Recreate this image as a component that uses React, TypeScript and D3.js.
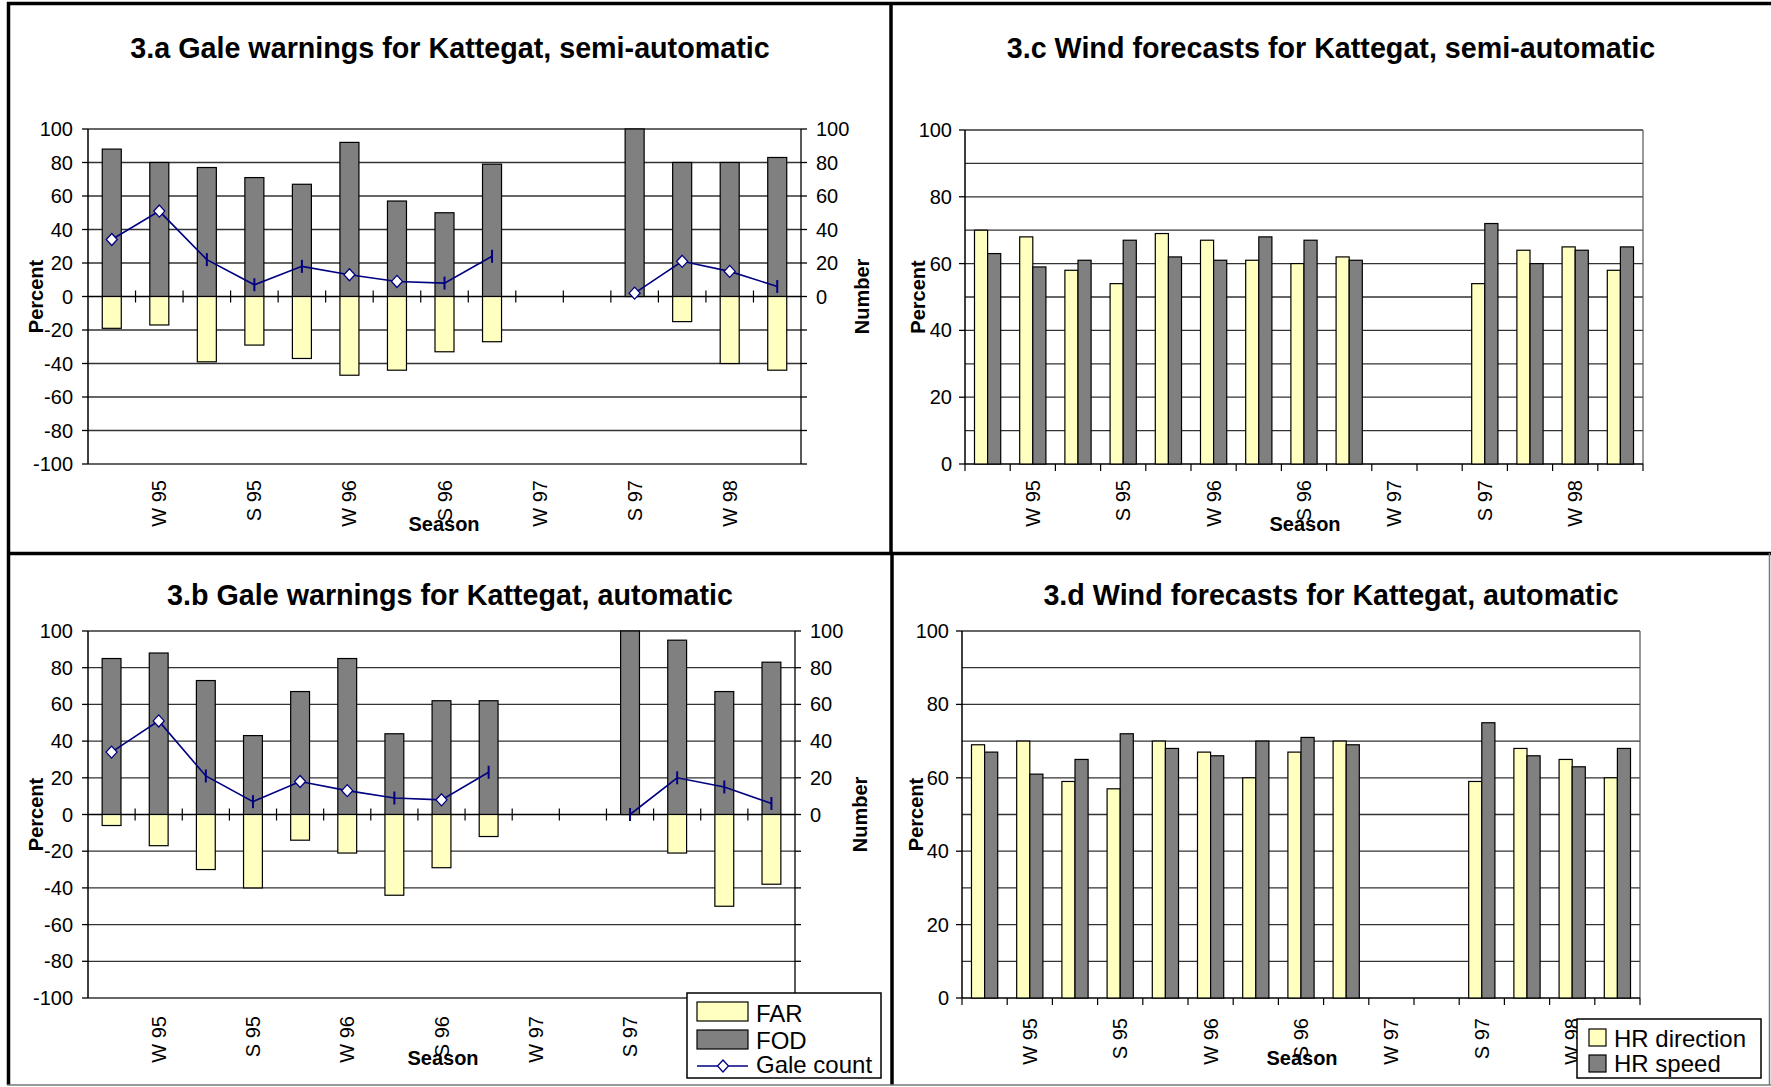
import React, { useEffect, useRef } from "react";
import * as d3 from "d3";

const W = 1771;
const H = 1087;
const FONT = "'Liberation Sans', Arial, sans-serif";

// categories (labels shown on every second season)
const seasons = ["", "W 95", "", "S 95", "", "W 96", "", "S 96", "", "W 97", "", "S 97", "", "W 98", ""];

// 3.a gale warnings, semi-automatic
const farSemi = [19, 17, 39, 29, 37, 47, 44, 33, 27, null, null, 0, 15, 40, 44];
const fodSemi = [88, 80, 77, 71, 67, 92, 57, 50, 79, null, null, 100, 80, 80, 83];
const galeSemi = [34, 51, 22, 7, 18, 13, 9, 8, 24, null, null, 2, 21, 15, 6];
const galeSemiMarks = ["d", "d", "|", "|", "|", "d", "d", "|", "|", "", "", "d", "d", "d", "|"];

// 3.b gale warnings, automatic
const farAuto = [6, 17, 30, 40, 14, 21, 44, 29, 12, null, null, 0, 21, 50, 38];
const fodAuto = [85, 88, 73, 43, 67, 85, 44, 62, 62, null, null, 100, 95, 67, 83];
const galeAuto = [34, 51, 21, 7, 18, 13, 9, 8, 23, null, null, 0, 20, 15, 6];
const galeAutoMarks = ["d", "d", "|", "|", "d", "d", "|", "d", "|", "", "", "|", "|", "|", "|"];

// 3.c wind forecasts, semi-automatic
const dirSemi = [70, 68, 58, 54, 69, 67, 61, 60, 62, null, null, 54, 64, 65, 58];
const speedSemi = [63, 59, 61, 67, 62, 61, 68, 67, 61, null, null, 72, 60, 64, 65];

// 3.d wind forecasts, automatic
const dirAuto = [69, 70, 59, 57, 70, 67, 60, 67, 70, null, null, 59, 68, 65, 60];
const speedAuto = [67, 61, 65, 72, 68, 66, 70, 71, 69, null, null, 75, 66, 63, 68];

const galeTicks = [-100, -80, -60, -40, -20, 0, 20, 40, 60, 80, 100];
const windTicks = [0, 20, 40, 60, 80, 100];

const colors = { far: "#FFFFC0", fod: "#808080", line: "#000080", grid: "#333333" };

type Sel = d3.Selection<SVGSVGElement, unknown, null, undefined>;

function addTitles(g: any, c: any) {
    g.append("text").text(c.title).attr("x", c.titleX).attr("y", c.titleY)
        .attr("text-anchor", "middle").attr("font-size", 28.7).attr("font-weight", "bold");
    g.append("text").text("Season").attr("x", c.seasonX).attr("y", c.seasonY)
        .attr("text-anchor", "middle").attr("font-size", 20).attr("font-weight", "bold");
    g.append("text").text("Percent")
        .attr("transform", `translate(${c.percentX}, ${(c.y0 + c.y1) / 2}) rotate(-90)`)
        .attr("dy", "0.35em").attr("text-anchor", "middle").attr("font-size", 20).attr("font-weight", "bold");
}

function addSeasonLabels(g: any, x: d3.ScaleBand<number>, top: number) {
    g.selectAll("text.season")
        .data(seasons.map((s, i) => ({ s, i })).filter(d => d.s !== ""))
        .join("text")
        .attr("class", "season")
        .attr("transform", (d: any) => `translate(${(x(d.i) as number) + x.bandwidth() / 2}, ${top}) rotate(-90)`)
        .attr("dy", "0.35em")
        .attr("text-anchor", "end")
        .attr("font-size", 20)
        .text((d: any) => d.s);
}

function drawGale(svg: Sel, c: any) {
    const g = svg.append("g");
    const x = d3.scaleBand<number>().domain(d3.range(seasons.length)).range([c.x0, c.x1]);
    const y = d3.scaleLinear().domain([-100, 100]).range([c.y1, c.y0]);
    const bw = x.bandwidth();
    const barW = bw * 0.4;

    // gridlines
    g.selectAll("line.grid").data(galeTicks).join("line")
        .attr("x1", c.x0).attr("x2", c.x1).attr("y1", d => y(d)).attr("y2", d => y(d))
        .attr("stroke", (d: number) => (d === 0 ? "#000" : colors.grid)).attr("stroke-width", 1.3);

    // left axis
    g.append("line").attr("x1", c.x0).attr("x2", c.x0).attr("y1", c.y0).attr("y2", c.y1).attr("stroke", "#000").attr("stroke-width", 1.5);
    g.selectAll("line.lt").data(galeTicks).join("line")
        .attr("x1", c.x0 - 6).attr("x2", c.x0).attr("y1", d => y(d)).attr("y2", d => y(d)).attr("stroke", "#000").attr("stroke-width", 1.3);
    g.selectAll("text.ll").data(galeTicks).join("text")
        .attr("x", c.x0 - 15).attr("y", d => y(d)).attr("dy", "0.35em").attr("text-anchor", "end").attr("font-size", 20)
        .text(d => d);

    // right axis (Number)
    g.append("line").attr("x1", c.x1).attr("x2", c.x1).attr("y1", c.y0).attr("y2", c.y1).attr("stroke", "#000").attr("stroke-width", 1.3);
    g.selectAll("line.rt").data(galeTicks).join("line")
        .attr("x1", c.x1).attr("x2", c.x1 + 6).attr("y1", d => y(d)).attr("y2", d => y(d)).attr("stroke", "#000").attr("stroke-width", 1.3);
    g.selectAll("text.rl").data(galeTicks.filter(d => d >= 0)).join("text")
        .attr("x", c.x1 + 15).attr("y", d => y(d)).attr("dy", "0.35em").attr("font-size", 20)
        .text(d => d);
    g.append("text").text("Number")
        .attr("transform", `translate(${c.numberX}, ${(c.y0 + c.y1) / 2}) rotate(-90)`)
        .attr("dy", "0.35em").attr("text-anchor", "middle").attr("font-size", 20).attr("font-weight", "bold");

    // category ticks across the zero line
    g.selectAll("line.ct").data(d3.range(1, seasons.length)).join("line")
        .attr("x1", i => c.x0 + i * bw).attr("x2", i => c.x0 + i * bw)
        .attr("y1", y(0) - 6).attr("y2", y(0) + 6).attr("stroke", "#000").attr("stroke-width", 1.2);

    // FOD bars (up) and FAR bars (down)
    const idx = d3.range(seasons.length);
    g.selectAll("rect.fod").data(idx.filter(i => c.fod[i] != null && c.fod[i] > 0)).join("rect")
        .attr("x", i => (x(i) as number) + (bw - barW) / 2).attr("width", barW)
        .attr("y", i => y(c.fod[i])).attr("height", i => y(0) - y(c.fod[i]))
        .attr("fill", colors.fod).attr("stroke", "#000").attr("stroke-width", 1.2);
    g.selectAll("rect.far").data(idx.filter(i => c.far[i] != null && c.far[i] > 0)).join("rect")
        .attr("x", i => (x(i) as number) + (bw - barW) / 2).attr("width", barW)
        .attr("y", y(0)).attr("height", i => y(-c.far[i]) - y(0))
        .attr("fill", colors.far).attr("stroke", "#000").attr("stroke-width", 1.2);

    // gale count line
    const cx = (i: number) => (x(i) as number) + bw / 2;
    const line = d3.line<number>().defined(i => c.gale[i] != null).x(i => cx(i)).y(i => y(c.gale[i]));
    g.append("path").attr("d", line(idx) as string).attr("fill", "none").attr("stroke", colors.line).attr("stroke-width", 1.6);
    const pts = idx.filter(i => c.gale[i] != null);
    g.selectAll("path.dm").data(pts.filter(i => c.marks[i] === "d")).join("path")
        .attr("d", i => `M${cx(i)},${y(c.gale[i]) - 6} L${cx(i) + 5.5},${y(c.gale[i])} L${cx(i)},${y(c.gale[i]) + 6} L${cx(i) - 5.5},${y(c.gale[i])} Z`)
        .attr("fill", "#fff").attr("stroke", colors.line).attr("stroke-width", 1.3);
    g.selectAll("line.dash").data(pts.filter(i => c.marks[i] === "|")).join("line")
        .attr("x1", i => cx(i)).attr("x2", i => cx(i))
        .attr("y1", i => y(c.gale[i]) - 6.5).attr("y2", i => y(c.gale[i]) + 6.5)
        .attr("stroke", colors.line).attr("stroke-width", 2);

    addSeasonLabels(g, x, c.labelTop);
    addTitles(g, c);

    if (c.legend) {
        const lg = svg.append("g").attr("transform", `translate(${c.legend[0]}, ${c.legend[1]})`);
        lg.append("rect").attr("width", 194).attr("height", 85).attr("fill", "#fff").attr("stroke", "#000").attr("stroke-width", 1.5);
        lg.append("rect").attr("x", 10).attr("y", 9).attr("width", 51).attr("height", 19).attr("fill", colors.far).attr("stroke", "#000").attr("stroke-width", 1.2);
        lg.append("rect").attr("x", 10).attr("y", 37).attr("width", 51).attr("height", 19).attr("fill", colors.fod).attr("stroke", "#000").attr("stroke-width", 1.2);
        lg.append("line").attr("x1", 10).attr("x2", 61).attr("y1", 73).attr("y2", 73).attr("stroke", colors.line).attr("stroke-width", 1.6);
        lg.append("path").attr("d", "M36,67 L41.5,73 L36,79 L30.5,73 Z").attr("fill", "#fff").attr("stroke", colors.line).attr("stroke-width", 1.3);
        const names = ["FAR", "FOD", "Gale count"];
        const baselines = [29, 56, 80];
        lg.selectAll("text").data(names).join("text")
            .attr("x", 69).attr("y", (d, i) => baselines[i]).attr("font-size", 24).text(d => d);
    }
}

function drawWind(svg: Sel, c: any) {
    const g = svg.append("g");
    const x = d3.scaleBand<number>().domain(d3.range(seasons.length)).range([c.x0, c.x1]);
    const y = d3.scaleLinear().domain([0, 100]).range([c.y1, c.y0]);
    const bw = x.bandwidth();
    const inner = d3.scaleBand<string>().domain(["dir", "speed"]).range([0, bw * 0.58]);
    const off = (bw - bw * 0.58) / 2;

    // gridlines every 10
    g.selectAll("line.grid").data(d3.range(10, 101, 10)).join("line")
        .attr("x1", c.x0).attr("x2", c.x1).attr("y1", d => y(d)).attr("y2", d => y(d))
        .attr("stroke", colors.grid).attr("stroke-width", 1.3);
    // plot right border
    g.append("line").attr("x1", c.x1).attr("x2", c.x1).attr("y1", c.y0).attr("y2", c.y1).attr("stroke", "#555").attr("stroke-width", 1.2);

    // left axis
    g.append("line").attr("x1", c.x0).attr("x2", c.x0).attr("y1", c.y0).attr("y2", c.y1).attr("stroke", "#000").attr("stroke-width", 1.5);
    g.selectAll("line.lt").data(windTicks).join("line")
        .attr("x1", c.x0 - 6).attr("x2", c.x0).attr("y1", d => y(d)).attr("y2", d => y(d)).attr("stroke", "#000").attr("stroke-width", 1.3);
    g.selectAll("text.ll").data(windTicks).join("text")
        .attr("x", c.x0 - 13).attr("y", d => y(d)).attr("dy", "0.35em").attr("text-anchor", "end").attr("font-size", 20)
        .text(d => d);

    // bottom axis with category ticks
    g.append("line").attr("x1", c.x0).attr("x2", c.x1).attr("y1", y(0)).attr("y2", y(0)).attr("stroke", "#000").attr("stroke-width", 1.5);
    g.selectAll("line.ct").data(d3.range(0, seasons.length + 1)).join("line")
        .attr("x1", i => c.x0 + i * bw).attr("x2", i => c.x0 + i * bw)
        .attr("y1", y(0)).attr("y2", y(0) + 7).attr("stroke", "#000").attr("stroke-width", 1.2);

    const idx = d3.range(seasons.length);
    g.selectAll("rect.dir").data(idx.filter(i => c.dir[i] != null)).join("rect")
        .attr("x", i => (x(i) as number) + off + (inner("dir") as number)).attr("width", inner.bandwidth())
        .attr("y", i => y(c.dir[i])).attr("height", i => y(0) - y(c.dir[i]))
        .attr("fill", colors.far).attr("stroke", "#000").attr("stroke-width", 1.2);
    g.selectAll("rect.speed").data(idx.filter(i => c.speed[i] != null)).join("rect")
        .attr("x", i => (x(i) as number) + off + (inner("speed") as number)).attr("width", inner.bandwidth())
        .attr("y", i => y(c.speed[i])).attr("height", i => y(0) - y(c.speed[i]))
        .attr("fill", colors.fod).attr("stroke", "#000").attr("stroke-width", 1.2);

    addSeasonLabels(g, x, c.labelTop);
    addTitles(g, c);

    if (c.legend) {
        const lg = svg.append("g").attr("transform", `translate(${c.legend[0]}, ${c.legend[1]})`);
        lg.append("rect").attr("width", 184).attr("height", 59).attr("fill", "#fff").attr("stroke", "#000").attr("stroke-width", 1.5);
        lg.append("rect").attr("x", 12).attr("y", 10).attr("width", 17).attr("height", 17).attr("fill", colors.far).attr("stroke", "#000").attr("stroke-width", 1.2);
        lg.append("rect").attr("x", 12).attr("y", 36).attr("width", 17).attr("height", 17).attr("fill", colors.fod).attr("stroke", "#000").attr("stroke-width", 1.2);
        lg.selectAll("text").data(["HR direction", "HR speed"]).join("text")
            .attr("x", 37).attr("y", (d, i) => 28 + i * 25).attr("font-size", 24).text(d => d);
    }
}

export default function App() {
    const ref = useRef<SVGSVGElement>(null);

    useEffect(() => {
        const svg = d3.select(ref.current as SVGSVGElement);
        svg.selectAll("*").remove();
        svg.attr("font-family", FONT);

        svg.append("rect").attr("width", W).attr("height", H).attr("fill", "#fff");

        drawGale(svg, {
            title: "3.a Gale warnings for Kattegat, semi-automatic",
            far: farSemi, fod: fodSemi, gale: galeSemi, marks: galeSemiMarks,
            x0: 88, x1: 801, y0: 129, y1: 464,
            titleX: 450, titleY: 58, seasonX: 444, seasonY: 531, labelTop: 480,
            percentX: 36, numberX: 862,
        });
        drawGale(svg, {
            title: "3.b Gale warnings for Kattegat, automatic",
            far: farAuto, fod: fodAuto, gale: galeAuto, marks: galeAutoMarks,
            x0: 88, x1: 795, y0: 631, y1: 998,
            titleX: 450, titleY: 605, seasonX: 443, seasonY: 1065, labelTop: 1016,
            percentX: 36, numberX: 860, legend: [687, 993],
        });
        drawWind(svg, {
            title: "3.c Wind forecasts for Kattegat, semi-automatic",
            dir: dirSemi, speed: speedSemi,
            x0: 965, x1: 1643, y0: 130, y1: 464,
            titleX: 1331, titleY: 58, seasonX: 1305, seasonY: 531, labelTop: 480,
            percentX: 918,
        });
        drawWind(svg, {
            title: "3.d Wind forecasts for Kattegat, automatic",
            dir: dirAuto, speed: speedAuto,
            x0: 962, x1: 1640, y0: 631, y1: 998,
            titleX: 1331, titleY: 605, seasonX: 1302, seasonY: 1065, labelTop: 1018,
            percentX: 916, legend: [1577, 1019],
        });

        // panel frame
        const frame = svg.append("g").attr("stroke", "#000").attr("stroke-width", 3.5);
        frame.append("line").attr("x1", 7).attr("x2", W).attr("y1", 3.5).attr("y2", 3.5);
        frame.append("line").attr("x1", 8.5).attr("x2", 8.5).attr("y1", 2).attr("y2", H - 2);
        frame.append("line").attr("x1", 7).attr("x2", W).attr("y1", 553.5).attr("y2", 553.5);
        frame.append("line").attr("x1", 891).attr("x2", 891).attr("y1", 2).attr("y2", 553);
        frame.append("line").attr("x1", 892).attr("x2", 892).attr("y1", 553).attr("y2", H - 2);
        svg.append("line").attr("x1", 7).attr("x2", W).attr("y1", 1085).attr("y2", 1085).attr("stroke", "#777").attr("stroke-width", 1.5);
        svg.append("line").attr("x1", 1769.5).attr("x2", 1769.5).attr("y1", 553).attr("y2", 1085).attr("stroke", "#777").attr("stroke-width", 1.5);
    }, []);

    return (
        <svg ref={ref} width={W} height={H} style={{ position: "absolute", left: 0, top: 0, display: "block" }} />
    );
}
